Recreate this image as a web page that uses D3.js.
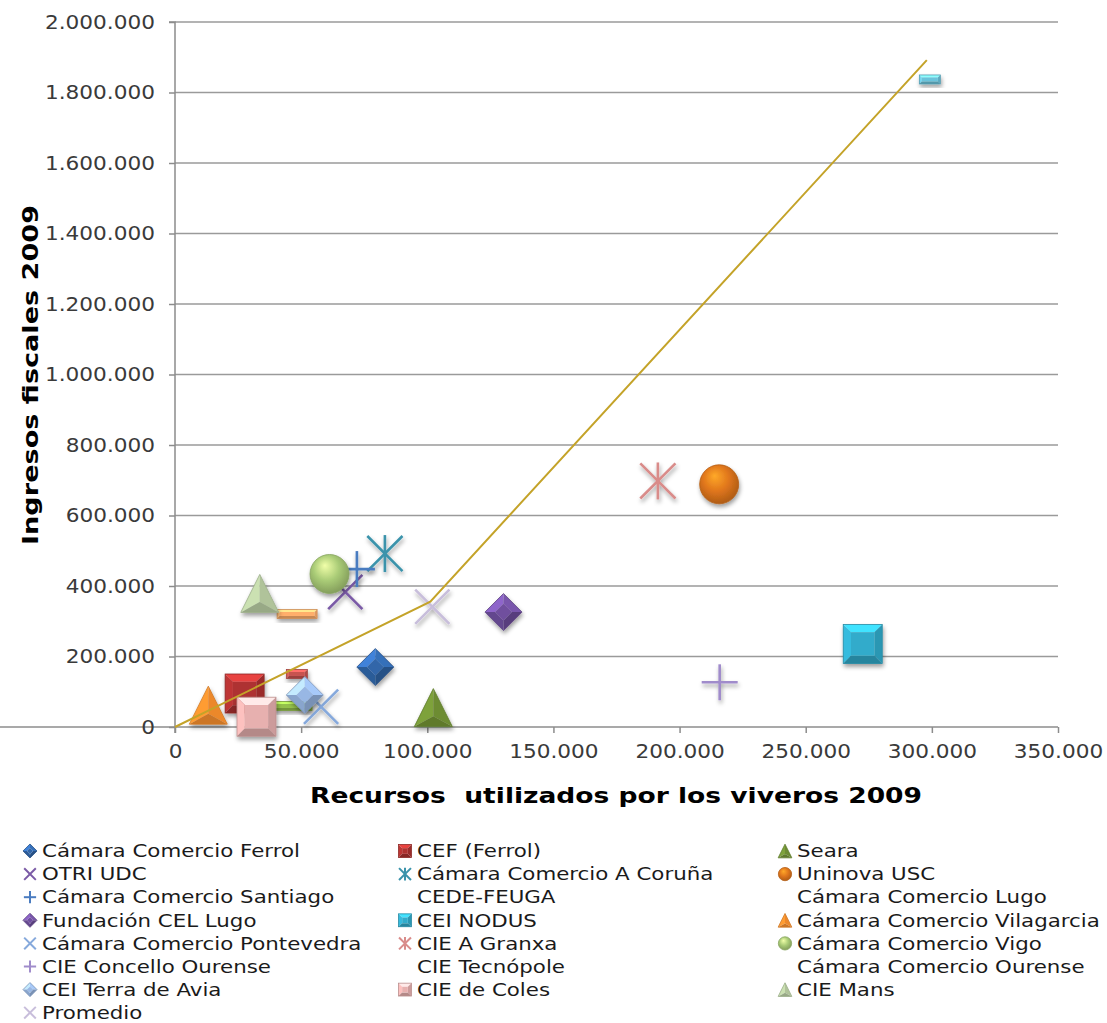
<!DOCTYPE html>
<html>
<head>
<meta charset="utf-8">
<script src="https://cdn.jsdelivr.net/npm/d3@7"></script>
<style>
  html, body { margin: 0; padding: 0; background: #fff; }
  svg { display: block; font-family: "DejaVu Sans", Verdana, sans-serif; }
</style>
</head>
<body>
<svg id="chart" width="1107" height="1023"></svg>
<script>
// Viveros de empresas de Galicia: recursos utilizados vs. ingresos fiscales (2009)
const seriesNames = [
  "Cámara Comercio Ferrol", "CEF (Ferrol)", "Seara",
  "OTRI UDC", "Cámara Comercio A Coruña", "Uninova USC",
  "Cámara Comercio Santiago", "CEDE-FEUGA", "Cámara Comercio Lugo",
  "Fundación CEL Lugo", "CEI NODUS", "Cámara Comercio Vilagarcia",
  "Cámara Comercio Pontevedra", "CIE A Granxa", "Cámara Comercio Vigo",
  "CIE Concello Ourense", "CIE Tecnópole", "Cámara Comercio Ourense",
  "CEI Terra de Avia", "CIE de Coles", "CIE Mans",
  "Promedio"
];
// Recursos utilizados por los viveros 2009 (x)
const recursos = [
  79400, 27600, 102400,
  67500, 83200, 215700,
  72100, 48300, 46400,
  130200, 272600, 13200,
  57900, 191400, 61250,
  215900, 299200, 48400,
  51450, 32300, 33600,
  102000
];
// Ingresos fiscales 2009 (y)
const ingresos = [
  170000, 95000, 55000,
  383000, 492000, 688500,
  448000, 150400, 59600,
  326000, 235500, 62000,
  57600, 698000, 434000,
  126800, 1837000, 320600,
  90800, 29200, 379000,
  341000
];
// Línea de referencia
const lineaRecursos = [0, 101200, 298000];
const lineaIngresos = [0, 355500, 1892000];

const xTickValues = [0, 50000, 100000, 150000, 200000, 250000, 300000, 350000];
const yTickValues = [0, 200000, 400000, 600000, 800000, 1000000, 1200000, 1400000, 1600000, 1800000, 2000000];

const xTitle = "Recursos  utilizados por los viveros 2009";
const yTitle = "Ingresos fiscales 2009";

// Marker style per series (Office palette, cycling shapes)
const markerStyle = [
  {shape: "diamond", color: "#2f62a3", size: 37},
  {shape: "square", color: "#a8302e", size: 39},
  {shape: "triangle", color: "#6f8f34", size: 38},
  {shape: "x", color: "#7a5aa6", size: 36},
  {shape: "star", color: "#3a93ab", size: 37},
  {shape: "circle", color: "#e0761c", size: 39},
  {shape: "plus", color: "#4a7cc0", size: 36},
  {shape: "dash", color: "#c0504d", size: 21},
  {shape: "dash", color: "#8fba48", size: 40},
  {shape: "diamond", color: "#6b4c98", size: 37},
  {shape: "square", color: "#2fa5c4", size: 39},
  {shape: "triangle", color: "#f08a2c", size: 38},
  {shape: "x", color: "#86a9dc", size: 36},
  {shape: "star", color: "#d98c8a", size: 37},
  {shape: "circle", color: "#a9cb76", size: 39},
  {shape: "plus", color: "#a08ccb", size: 36},
  {shape: "dash", color: "#66bcd3", size: 21},
  {shape: "dash", color: "#f6a866", size: 40},
  {shape: "diamond", color: "#93b1dc", size: 37},
  {shape: "square", color: "#dfaaa9", size: 39},
  {shape: "triangle", color: "#b3c79d", size: 38},
  {shape: "x", color: "#c8bedb", size: 36}
];

const svg = d3.select("#chart");
const margin = {left: 175, right: 1058, top: 22, bottom: 727};
const x = d3.scaleLinear().domain([0, 350000]).range([margin.left, margin.right]);
const y = d3.scaleLinear().domain([0, 2000000]).range([margin.bottom, margin.top]);
const fmt = d3.formatLocale({decimal: ",", thousands: ".", grouping: [3], currency: ["", ""]}).format(",");

const defs = svg.append("defs");
const shadow = defs.append("filter").attr("id", "shadow")
  .attr("x", "-40%").attr("y", "-40%").attr("width", "180%").attr("height", "180%");
shadow.append("feDropShadow").attr("dx", 1).attr("dy", 3).attr("stdDeviation", 2.2)
  .attr("flood-color", "#000").attr("flood-opacity", 0.38);

// Gridlines
svg.append("g").selectAll("line").data(yTickValues.filter(v => v > 0)).join("line")
  .attr("x1", margin.left).attr("x2", margin.right)
  .attr("y1", d => y(d)).attr("y2", d => y(d))
  .attr("stroke", "#9a9a9a").attr("stroke-width", 1.5);

// Axes
const xAxis = svg.append("g").attr("transform", `translate(0,${margin.bottom})`)
  .call(d3.axisBottom(x).tickValues(xTickValues).tickFormat(fmt).tickSize(6).tickPadding(12));
const yAxis = svg.append("g").attr("transform", `translate(${margin.left},0)`)
  .call(d3.axisLeft(y).tickValues(yTickValues).tickFormat(fmt).tickSize(6).tickPadding(14));
[xAxis, yAxis].forEach(g => {
  g.select(".domain").attr("stroke", "#8c8c8c").attr("stroke-width", 1.5);
  g.selectAll(".tick line").attr("stroke", "#8c8c8c").attr("stroke-width", 1.5);
  g.selectAll(".tick text").attr("fill", "#3a3a3a").attr("font-size", 19)
    .attr("font-family", "DejaVu Sans, sans-serif");
});
yAxis.select(".domain").attr("d", `M-6,${margin.top}H0V${margin.bottom + 6}`);
xAxis.select(".domain").attr("d", `M0,0H${margin.right}`);

// Axis titles
const xT = svg.append("text").attr("x", 310).attr("y", 803)
  .attr("font-size", 22).attr("font-weight", "bold").attr("fill", "#000")
  .style("white-space", "pre").text(xTitle);
const yT = svg.append("text").attr("transform", "translate(38,375) rotate(-90)")
  .attr("text-anchor", "middle").attr("font-size", 22).attr("font-weight", "bold").attr("fill", "#000")
  .text(yTitle);

// Marker drawing
function poly(pts) { return "M" + pts.map(p => p.join(",")).join("L") + "Z"; }

function bevelRect(g, w, h, color) {
  const c = d3.color(color);
  const hw = w / 2, hh = h / 2, b = Math.min(w, h) * (h < 15 ? 0.28 : 0.2);
  g.append("path").attr("d", poly([[-hw,-hh],[hw,-hh],[hw-b,-hh+b],[-hw+b,-hh+b]])).attr("fill", c.brighter(0.9));
  g.append("path").attr("d", poly([[-hw,-hh],[-hw+b,-hh+b],[-hw+b,hh-b],[-hw,hh]])).attr("fill", c.brighter(0.35));
  g.append("path").attr("d", poly([[hw,-hh],[hw,hh],[hw-b,hh-b],[hw-b,-hh+b]])).attr("fill", c.darker(0.25));
  g.append("path").attr("d", poly([[-hw,hh],[-hw+b,hh-b],[hw-b,hh-b],[hw,hh]])).attr("fill", c.darker(0.6));
  g.append("rect").attr("x", -hw + b).attr("y", -hh + b).attr("width", w - 2 * b).attr("height", h - 2 * b)
    .attr("fill", c.brighter(0.1));
  g.append("rect").attr("x", -hw).attr("y", -hh).attr("width", w).attr("height", h)
    .attr("fill", "none").attr("stroke", c.darker(0.5)).attr("stroke-width", 0.8);
}

function bevelDiamond(g, s, color) {
  const c = d3.color(color);
  const h = s / 2, k = 0.45 * h;
  const T = [0,-h], R = [h,0], B = [0,h], L = [-h,0];
  const t = [0,-k], r = [k,0], bb = [0,k], l = [-k,0];
  g.append("path").attr("d", poly([L,T,t,l])).attr("fill", c.brighter(0.8));
  g.append("path").attr("d", poly([T,R,r,t])).attr("fill", c.brighter(0.35));
  g.append("path").attr("d", poly([R,B,bb,r])).attr("fill", c.darker(0.55));
  g.append("path").attr("d", poly([B,L,l,bb])).attr("fill", c.darker(0.2));
  g.append("path").attr("d", poly([t,r,bb,l])).attr("fill", c.brighter(0.1));
  g.append("path").attr("d", poly([T,R,B,L])).attr("fill", "none").attr("stroke", c.darker(0.5)).attr("stroke-width", 0.8);
}

function bevelTriangle(g, s, color) {
  const c = d3.color(color);
  const h = s / 2;
  const A = [0,-h], BL = [-h,h], BR = [h,h], m = [0, h * 0.45];
  g.append("path").attr("d", poly([A,BL,m])).attr("fill", c.brighter(0.35));
  g.append("path").attr("d", poly([A,m,BR])).attr("fill", c.darker(0.05));
  g.append("path").attr("d", poly([BL,BR,m])).attr("fill", c.darker(0.45));
  g.append("path").attr("d", poly([A,BL,BR])).attr("fill", "none").attr("stroke", c.darker(0.4)).attr("stroke-width", 0.8);
}

let gradId = 0;
function shadedCircle(g, s, color) {
  const c = d3.color(color);
  const id = "rg" + (gradId++);
  const rg = defs.append("radialGradient").attr("id", id)
    .attr("cx", "45%").attr("cy", "40%").attr("r", "60%").attr("fx", "38%").attr("fy", "28%");
  rg.append("stop").attr("offset", "0%").attr("stop-color", c.brighter(1.0));
  rg.append("stop").attr("offset", "55%").attr("stop-color", c);
  rg.append("stop").attr("offset", "100%").attr("stop-color", c.darker(0.7));
  g.append("circle").attr("r", s / 2).attr("fill", `url(#${id})`)
    .attr("stroke", c.darker(0.6)).attr("stroke-width", 0.8);
}

function strokeMarker(g, shape, s, color, sw) {
  const h = s / 2;
  const segs = [];
  if (shape === "x" || shape === "star") {
    segs.push([-h * 0.95, -h * 0.95, h * 0.95, h * 0.95], [-h * 0.95, h * 0.95, h * 0.95, -h * 0.95]);
  }
  if (shape === "star") segs.push([0, -h, 0, h]);
  if (shape === "plus") segs.push([-h, 0, h, 0], [0, -h, 0, h]);
  g.selectAll("line.seg").data(segs).join("line").attr("class", "seg")
    .attr("x1", d => d[0]).attr("y1", d => d[1]).attr("x2", d => d[2]).attr("y2", d => d[3])
    .attr("stroke", color).attr("stroke-width", sw).attr("stroke-linecap", "butt");
}

function drawMarker(g, st, scale, legend) {
  const s = st.size * scale;
  switch (st.shape) {
    case "diamond": bevelDiamond(g, s, st.color); break;
    case "square": bevelRect(g, s, s, st.color); break;
    case "triangle": bevelTriangle(g, s, st.color); break;
    case "circle": shadedCircle(g, s, st.color); break;
    case "dash": if (!legend) bevelRect(g, s, 9, st.color); break;
    default: strokeMarker(g, st.shape, s, st.color, legend ? 2 : 2.6);
  }
}

const points = seriesNames.map((name, i) => ({name, x: recursos[i], y: ingresos[i], st: markerStyle[i]}));

const markers = svg.append("g").selectAll("g").data(points).join("g")
  .attr("transform", d => `translate(${x(d.x)},${y(d.y)})`)
  .attr("filter", "url(#shadow)");
markers.each(function(d) { drawMarker(d3.select(this), d.st, 1, false); });

// Reference line
svg.append("path")
  .datum(lineaRecursos.map((v, i) => [v, lineaIngresos[i]]))
  .attr("d", d3.line().x(d => x(d[0])).y(d => y(d[1])))
  .attr("fill", "none").attr("stroke", "#c4a329").attr("stroke-width", 2);

// Legend: three columns, row-major order
const legendCols = [30, 405, 785];
const legendTop = 851, legendStep = 23.1;
const legend = svg.append("g").selectAll("g").data(points).join("g")
  .attr("transform", (d, i) => `translate(${legendCols[i % 3]},${legendTop + Math.floor(i / 3) * legendStep})`);
legend.each(function(d) {
  const g = d3.select(this);
  const mk = g.append("g");
  const legendScale = {diamond: 0.38, square: 0.33, triangle: 0.36, circle: 0.34, x: 0.34, star: 0.34, plus: 0.34, dash: 0.4}[d.st.shape];
  drawMarker(mk, d.st, legendScale, true);
  g.append("text").attr("class", "lg").attr("x", 12).attr("dy", "0.34em")
    .attr("font-size", 18.5).attr("fill", "#1a1a1a").text(d.name);
});

// Stretch text horizontally to the chart's wide lettering
function stretchTo(sel, refWidth, refNode) {
  const k = refWidth / refNode.getComputedTextLength();
  sel.each(function() {
    const w = this.getComputedTextLength();
    d3.select(this).attr("textLength", w * k).attr("lengthAdjust", "spacingAndGlyphs");
  });
}
const lgTexts = svg.selectAll("text.lg");
stretchTo(lgTexts, 258, lgTexts.nodes()[0]);
const yTickTexts = yAxis.selectAll(".tick text");
const tickK = 110 / yTickTexts.nodes()[yTickTexts.size() - 1].getComputedTextLength();
svg.selectAll(".tick text").each(function() {
  const w = this.getComputedTextLength();
  d3.select(this).attr("textLength", w * tickK).attr("lengthAdjust", "spacingAndGlyphs");
});
xT.attr("textLength", 612).attr("lengthAdjust", "spacingAndGlyphs");
yT.attr("textLength", 340).attr("lengthAdjust", "spacingAndGlyphs");
</script>
</body>
</html>
